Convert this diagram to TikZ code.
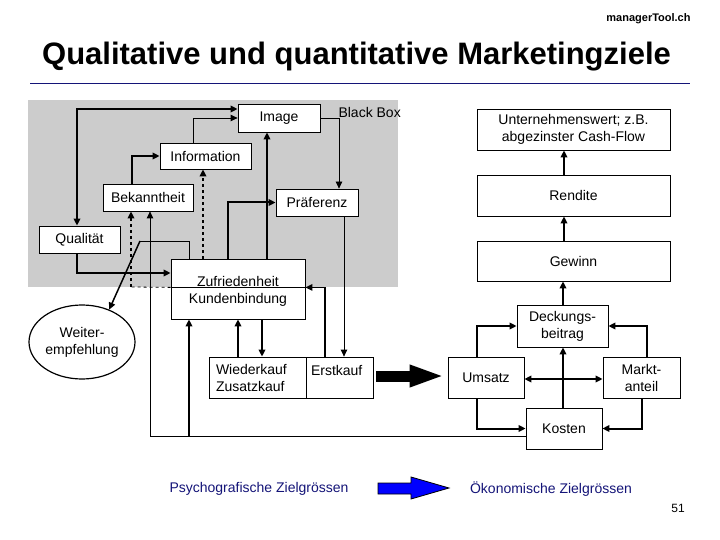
\documentclass[tikz,border=0pt]{standalone}
\usepackage{fontspec}
\setmainfont{Liberation Sans}
\usetikzlibrary{arrows.meta,shapes.geometric}
\definecolor{bbgray}{RGB}{204,204,204}
\definecolor{mknavy}{RGB}{20,20,120}
\definecolor{mkblue}{RGB}{0,0,255}
\begin{document}
\begin{tikzpicture}[x=1pt,y=-1pt,
  every node/.style={font=\fontsize{14}{17}\selectfont},
  box/.style={draw, fill=white, inner sep=0pt, line width=0.8pt, align=center},
  >={Triangle[length=7pt,width=6.5pt]},
  thk/.style={line width=2pt},
  thn/.style={line width=0.8pt},
]
\useasboundingbox (0,0) rectangle (720,540);
\fill[white] (0,0) rectangle (720,540);

% header
\node[font=\fontsize{11}{13}\selectfont\bfseries, anchor=base] (mt) at (648.5,22) {managerTool.ch};
\node[font=\fontsize{31}{36}\selectfont\bfseries, anchor=base] (title) at (356.5,65) {Qualitative und quantitative Marketingziele};
\draw[mknavy, line width=1pt] (30,84) -- (690,84);

% black box background
\fill[bbgray] (28,100) rectangle (398,287);
\node[anchor=west] (bb) at (335,112) {Black Box};

% left nodes
\node[box, minimum width=82pt, minimum height=28pt] (image) at (279,118) {Image};
\node[box, minimum width=91pt, minimum height=26pt] (info) at (205.5,156) {Information};
\node[box, minimum width=90pt, minimum height=27pt] (bek) at (148,197.5) {Bekanntheit};
\node[box, minimum width=82pt, minimum height=27pt] (praef) at (317,202.5) {Präferenz};
\node[box, minimum width=81pt, minimum height=27pt] (qual) at (79.5,239.5) {Qualität};
\node[box, minimum width=134pt, minimum height=28pt] (zuf) at (238,273) {\raisebox{-13pt}[0pt][0pt]{Zufriedenheit}};
\node[box, minimum width=134pt, minimum height=32pt] (kund) at (238,303) {\raisebox{0pt}[0pt][0pt]{Kundenbindung}};
\node[box, ellipse, line width=1.2pt, minimum width=106pt, minimum height=74pt] (weiter) at (82,342) {Weiter-\\empfehlung};
\node[box, minimum width=97pt, minimum height=41pt, text width=83pt, align=left] (wied) at (257.5,377.5) {Wiederkauf\\Zusatzkauf};
\node[box, minimum width=67pt, minimum height=41pt, text width=57pt, align=left] (erst) at (339.5,377.5) {\raisebox{2.5pt}[0pt][0pt]{Erstkauf}};

% right nodes
\node[box, minimum width=193pt, minimum height=41pt] (uw) at (573.5,129.5) {Unternehmenswert; z.B.\\abgezinster Cash-Flow};
\node[box, minimum width=193pt, minimum height=41pt] (rend) at (573.5,195.5) {Rendite};
\node[box, minimum width=193pt, minimum height=40pt] (gew) at (573.5,261) {Gewinn};
\node[box, minimum width=91pt, minimum height=42pt] (db) at (562.5,326) {Deckungs-\\beitrag};
\node[box, minimum width=76pt, minimum height=41pt] (ums) at (486,377.5) {Umsatz};
\node[box, minimum width=77pt, minimum height=41pt] (markt) at (641.5,377.5) {Markt-\\anteil};
\node[box, minimum width=76pt, minimum height=41pt] (kost) at (564,428.5) {Kosten};

% left connectors
\draw[thk,<->] (qual.north -| 77,0) |- (image.west |- 0,109);
\draw[thn,->] (info.north -| 193,0) |- (image.west);
\draw[thk,->] (bek.north -| 132,0) |- (info.west);
\draw[thn,->] (image.east) -| (praef.north -| 339,0);
\draw[thk,->] (zuf.north -| 267,0) -- (image.south -| 267,0);
\draw[thk,->] (zuf.north -| 228,0) |- (praef.west);
\draw[thk,dashed,->] (zuf.north -| 203,0) -- (info.south -| 203,0);
\coordinate (d1) at (131,287);
\draw[thn,dashed] (zuf.south west) -- (d1);
\draw[thk,dashed,->] (d1) -- (bek.south -| d1);
\draw[thk,->] (qual.south -| 77,0) |- (zuf.west);
\coordinate (w1) at (140,241);
\draw[thn] (zuf.north -| 189,0) |- (w1);
\draw[line width=1.5pt,->] (w1) -- (weiter.50);
\draw[thn,->] (praef.south -| 344,0) -- (erst.north -| 344,0);
\draw[line width=1.2pt,->] (erst.north -| 325,0) |- (zuf.south east);
\draw[thk,->] (wied.north -| 238,0) -- (kund.south -| 238,0);
\draw[thk,->] (kund.south -| 262,0) -- (wied.north -| 262,0);
\coordinate (k1) at (150,436);
\coordinate (k2) at (189,436);
\draw[thn,->] (kost.west |- 0,436) -- (k1) -- (bek.south -| k1);
\draw[thk,->] (k2) -- (kund.south -| k2);

% right connectors
\draw[thk,->] (rend.north -| 564,0) -- (uw.south -| 564,0);
\draw[thk,->] (gew.north -| 564,0) -- (rend.south -| 564,0);
\draw[thk,->] (db.north -| 563,0) -- (gew.south -| 563,0);
\draw[thk,->] (kost.north -| 563,0) -- (db.south -| 563,0);
\draw[thk,<->] (ums.east |- 0,379) -- (markt.west |- 0,379);
\draw[thk,->] (ums.north -| 477,0) |- (db.west);
\draw[thk,->] (markt.north -| 647,0) |- (db.east);
\draw[thk,->] (ums.south -| 477,0) |- (kost.west);
\draw[thk,->] (markt.south -| 642,0) |- (kost.east);

% big black arrow
\draw[line width=11pt, -{Triangle[length=35pt,width=20pt]}, shorten <=3pt, shorten >=3pt] (erst.east |- 0,376) -- (ums.west |- 0,376);

% legend
\node[text=mknavy] (psy) at (259,489) {Psychografische Zielgrössen};
\node[text=mknavy] (oek) at (551,489) {Ökonomische Zielgrössen};
\draw[fill=mkblue, line width=0.8pt] (378,483) -- (411,483) -- (411,477) -- (449,488) -- (411,499) -- (411,494) -- (378,494) -- cycle;
\node[font=\fontsize{12}{14}\selectfont] (pg) at (678,508) {51};
\end{tikzpicture}
\end{document}
